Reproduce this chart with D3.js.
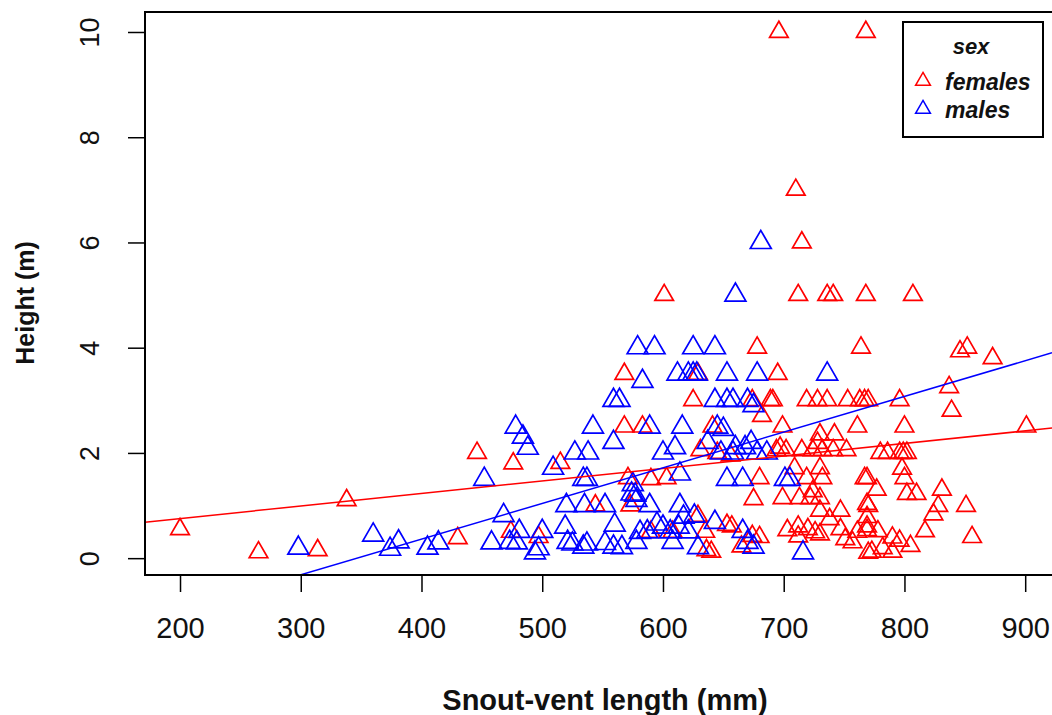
<!DOCTYPE html>
<html>
<head>
<meta charset="utf-8">
<script src="https://cdn.jsdelivr.net/npm/d3@7"></script>
<style>
  body { margin: 0; background: #fff; }
  svg { display: block; font-family: "Liberation Sans", Arial, sans-serif; }
</style>
</head>
<body>
<div id="chart"></div>
<script>
// snout-vent length (mm) and height (m)
const femalesSVL = [696, 768, 710, 715, 601, 712, 736, 741, 768, 807,
  678, 764, 846, 852, 873, 568, 629, 695, 837, 839,
  625, 674, 689, 691, 719, 728, 736, 753, 763, 767, 770, 796, 682,
  568, 583, 641, 699, 761, 800, 901, 730, 742, 728,
  446, 697, 694, 702, 715, 724, 732, 741, 752, 780, 786, 796, 799, 802, 631, 645, 656,
  476, 515, 709, 730, 798,
  571, 590, 603, 680, 719, 732, 767, 769, 800,
  724, 777, 831, 802, 810,
  338, 675, 699, 713, 722, 730,
  544, 573, 769, 770, 828, 851,
  747, 730, 824, 769, 738, 629,
  653, 657, 712, 769, 200,
  474, 590, 608, 635, 703, 720, 726, 747, 761, 769, 817, 778,
  430, 497, 674, 680, 712, 730, 751, 790, 856,
  757, 796, 805, 665,
  265, 314, 640, 636, 770, 773, 782, 790];
const femalesHeight = [10, 10, 7.0, 6.0, 5, 5, 5, 5, 5, 5,
  4.0, 4.0, 3.93, 4.0, 3.8, 3.5, 3.5, 3.5, 3.25, 2.8,
  3.0, 3.0, 3.0, 3.0, 3.0, 3.0, 3.0, 3.0, 3.0, 3.0, 3.0, 3.0, 2.7,
  2.5, 2.5, 2.5, 2.5, 2.5, 2.5, 2.5, 2.35, 2.35, 2.19,
  2.0, 2.1, 2.05, 2.05, 2.05, 2.05, 2.05, 2.05, 2.05, 2.0, 2.0, 2.0, 2.0, 2.0, 2.05, 2.0, 1.95,
  1.8, 1.81, 1.71, 1.71, 1.7,
  1.52, 1.5, 1.52, 1.52, 1.52, 1.52, 1.52, 1.52, 1.52,
  1.27, 1.3, 1.3, 1.22, 1.22,
  1.1, 1.12, 1.14, 1.14, 1.14, 1.14,
  1.0, 1.0, 1.03, 0.99, 0.99, 0.99,
  0.9, 0.9, 0.83, 0.78, 0.74, 0.8,
  0.63, 0.6, 0.6, 0.6, 0.55,
  0.5, 0.5, 0.5, 0.5, 0.53, 0.55, 0.49, 0.55, 0.5, 0.53, 0.51, 0.51,
  0.38, 0.4, 0.42, 0.4, 0.41, 0.45, 0.36, 0.39, 0.4,
  0.3, 0.33, 0.23, 0.22,
  0.11, 0.15, 0.12, 0.15, 0.1, 0.12, 0.19, 0.12];

const malesSVL = [681, 660,
  579, 593, 625, 643,
  612, 621, 625, 628, 653, 678, 736, 583,
  559, 564, 643, 653, 658, 670, 675,
  478, 542, 589, 616, 645, 650,
  484, 488, 559, 527, 538, 600, 610, 637, 648, 660, 668, 673, 658, 678, 686,
  509, 452, 534, 537, 614, 653, 666, 701, 705,
  574, 575, 577, 578,
  520, 535, 552, 589, 614,
  468, 617, 626, 643,
  519, 560, 595, 600, 613,
  481, 500, 581, 587, 606, 621, 666,
  360, 381, 414, 458, 473, 479, 521, 525, 534, 537, 552, 559, 566, 578, 608, 629, 670, 675,
  298, 374, 405, 494, 497, 716];
const malesHeight = [6.0, 5.0,
  4.0, 4.0, 4.0, 4.0,
  3.5, 3.5, 3.5, 3.5, 3.5, 3.5, 3.5, 3.36,
  3.0, 3.0, 3.0, 3.0, 3.0, 3.0, 2.9,
  2.49, 2.49, 2.49, 2.49, 2.49, 2.45,
  2.3, 2.09, 2.2, 2.0, 2.0, 2.0, 2.1, 2.2, 2.0, 2.1, 2.1, 2.2, 2.0, 2.0, 2.0,
  1.71, 1.5, 1.5, 1.5, 1.6, 1.5, 1.5, 1.5, 1.5,
  1.22, 1.4, 1.2, 1.1,
  1.0, 1.0, 1.0, 1.0, 1.0,
  0.81, 0.78, 0.8, 0.68,
  0.59, 0.63, 0.65, 0.59, 0.59,
  0.51, 0.51, 0.49, 0.5, 0.5, 0.5, 0.51,
  0.44, 0.31, 0.29, 0.29, 0.3, 0.29, 0.3, 0.27, 0.21, 0.27, 0.28, 0.21, 0.2, 0.3, 0.3, 0.2, 0.3, 0.21,
  0.19, 0.17, 0.19, 0.1, 0.18, 0.1];

// fitted lines: height = intercept + slope * SVL
const fitIntercept = [0.277, -2.35];
const fitSlope = [0.00238, 0.00678];

const groups = ['females', 'males'];
const groupColors = ['#ff0000', '#0000ff'];
const xTicks = [200, 300, 400, 500, 600, 700, 800, 900];
const yTicks = [0, 2, 4, 6, 8, 10];

const width = 1052, height = 715;
const margin = { top: 12, right: 0, bottom: 140, left: 145 };
const plotW = width - margin.left - margin.right;
const plotH = height - margin.top - margin.bottom;

const x = d3.scaleLinear().domain([171, 922.2]).range([0, plotW]);
const y = d3.scaleLinear().domain([-0.32, 10.38]).range([plotH, 0]);

const svg = d3.select('#chart')
  .append('svg')
  .attr('width', width)
  .attr('height', height);

const g = svg.append('g')
  .attr('transform', `translate(${margin.left},${margin.top})`);

g.append('clipPath').attr('id', 'plot-clip')
  .append('rect').attr('width', plotW).attr('height', plotH);

// axes
const xAxis = g.append('g')
  .attr('transform', `translate(0,${plotH})`)
  .call(d3.axisBottom(x).tickValues(xTicks).tickSize(17).tickPadding(25).tickFormat(d3.format('d')));
xAxis.select('.domain').remove();
xAxis.selectAll('text').style('font-size', '29px').style('fill', '#111');

const yAxis = g.append('g')
  .call(d3.axisLeft(y).tickValues(yTicks).tickSize(17).tickFormat(d3.format('d')));
yAxis.select('.domain').remove();
yAxis.selectAll('text')
  .attr('x', null).attr('dy', '0.35em')
  .attr('transform', 'translate(-55,0) rotate(-90)')
  .style('text-anchor', 'middle')
  .style('font-size', '27px').style('fill', '#111');

svg.selectAll('.tick line').style('stroke', '#000').style('stroke-width', 1.5);

// axis titles
svg.append('text')
  .attr('x', margin.left + x(552)).attr('y', 710)
  .style('text-anchor', 'middle').style('font-weight', 'bold').style('font-size', '29px')
  .style('fill', '#111')
  .text('Snout-vent length (mm)');

svg.append('text')
  .attr('transform', `translate(34,${margin.top + y(4.85)}) rotate(-90)`)
  .style('text-anchor', 'middle').style('font-weight', 'bold').style('font-size', '25px')
  .style('fill', '#111')
  .text('Height (m)');

// points
const tri = d3.symbol().type(d3.symbolTriangle);
const series = [
  { svl: femalesSVL, h: femalesHeight, size: 150 },
  { svl: malesSVL, h: malesHeight, size: 190 }
];

series.forEach((s, i) => {
  g.append('g')
    .selectAll('path')
    .data(s.svl.map((v, j) => [v, s.h[j]]))
    .enter()
    .append('path')
    .attr('transform', d => `translate(${x(d[0])},${y(d[1])})`)
    .attr('d', tri.size(s.size)())
    .attr('fill', 'none')
    .attr('stroke', groupColors[i])
    .attr('stroke-width', 1.7);
});

// fitted lines
const lineG = g.append('g').attr('clip-path', 'url(#plot-clip)');
groups.forEach((grp, i) => {
  const xs = x.domain();
  lineG.append('line')
    .attr('x1', x(xs[0])).attr('y1', y(fitIntercept[i] + fitSlope[i] * xs[0]))
    .attr('x2', x(xs[1])).attr('y2', y(fitIntercept[i] + fitSlope[i] * xs[1]))
    .attr('stroke', groupColors[i])
    .attr('stroke-width', 1.5);
});

// plot frame (right edge falls outside the picture)
g.append('rect')
  .attr('x', 0).attr('y', 0)
  .attr('width', plotW + 40).attr('height', plotH)
  .attr('fill', 'none').attr('stroke', '#000').attr('stroke-width', 2);

// legend
const leg = svg.append('g').attr('transform', 'translate(903,22)');
leg.append('rect')
  .attr('width', 140).attr('height', 115)
  .attr('fill', '#fff').attr('stroke', '#000').attr('stroke-width', 2);
leg.append('text')
  .attr('x', 68).attr('y', 32)
  .style('text-anchor', 'middle').style('font-weight', 'bold').style('font-style', 'italic')
  .style('font-size', '22px').style('fill', '#111')
  .text('sex');
groups.forEach((grp, i) => {
  const row = leg.append('g').attr('transform', `translate(0,${59 + i * 28})`);
  row.append('path')
    .attr('transform', 'translate(20,0)')
    .attr('d', d3.symbol().type(d3.symbolTriangle).size(95)())
    .attr('fill', 'none').attr('stroke', groupColors[i]).attr('stroke-width', 1.5);
  row.append('text')
    .attr('x', 42).attr('y', 9)
    .style('font-weight', 'bold').style('font-style', 'italic')
    .style('font-size', '23px').style('fill', '#111')
    .text(grp);
});
</script>
</body>
</html>
